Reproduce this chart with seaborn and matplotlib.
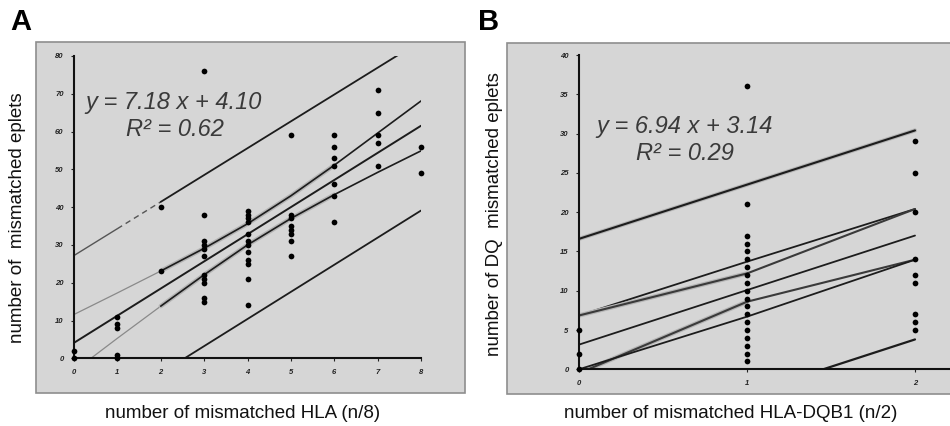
import numpy as np
import pandas as pd
import seaborn as sns
import matplotlib.pyplot as plt
from matplotlib.patches import Rectangle

# Panel A: number of mismatched HLA (n/8) vs mismatched eplets
hla_n = ([0] * 2 + [1] * 5 + [2] * 2 + [3] * 11 + [4] * 12 + [5] * 8
         + [6] * 7 + [7] * 5 + [8] * 2)
eplets_a = [0, 2,
            0, 1, 8, 9, 11,
            23, 40,
            15, 16, 20, 21, 22, 27, 29, 31, 30, 38, 76,
            14, 21, 25, 26, 28, 30, 31, 33, 36, 37, 38, 39,
            27, 31, 33, 34, 35, 37, 38, 59,
            36, 43, 46, 51, 53, 56, 59,
            51, 57, 59, 65, 71,
            49, 56]

# fitted line, confidence and prediction limits
fit_x_a = [0, 1, 2, 3, 4, 5, 6, 7, 8]
fit_a = [4.10, 11.28, 18.46, 25.64, 32.82, 40.00, 47.18, 54.36, 61.54]
ci_up_a = [11.6, 17.3, 23.1, 29.1, 35.6, 43.0, 51.1, 59.6, 68.1]
ci_lo_a = [-3.4, 5.3, 13.8, 22.1, 30.0, 37.0, 43.3, 49.2, 54.9]
pi_x_a = [0, 1, 2, 8]
pi_up_a = [27.2, 34.3, 41.4, 84.0]
pi_lo_a = [-18.3, -11.6, -4.9, 39.1]

# Panel B: number of mismatched HLA-DQB1 (n/2) vs DQ mismatched eplets
dqb1_n = [0] * 3 + [1] * 19 + [2] * 9
eplets_b = [0, 2, 5,
            1, 2, 3, 4, 5, 6, 7, 8, 9, 10, 11, 12, 13, 14, 15, 16, 17, 21, 36,
            5, 6, 7, 11, 12, 14, 20, 25, 29]

fit_x_b = [0, 1, 2]
fit_b = [3.14, 10.08, 17.02]
band_up_b = [6.85, 13.7, 20.4]
ci_up_b = [6.85, 12.2, 20.4]
ci_lo_b = [-0.5, 8.6, 13.95]
band_lo_b = [0.0, 6.7, 13.95]
pi_up_b = [16.6, 23.5, 30.4]
pi_lo_b = [-10.1, -3.2, 3.8]

sns.set_style("ticks")
plt.rcParams['font.family'] = ['Liberation Sans', 'DejaVu Sans']

fig = plt.figure(figsize=(9.5, 4.26), dpi=100)
W, H = 950.0, 426.0

# grey panel backgrounds
for x0, y0, w, h in [(36, 42, 429, 351), (507, 43, 446, 351)]:
    fig.patches.append(Rectangle((x0 / W, 1 - (y0 + h) / H), w / W, h / H,
                                 transform=fig.transFigure, facecolor='#d6d6d6',
                                 edgecolor='#8e8e8e', linewidth=1.2, zorder=0))

axA = fig.add_axes([74 / W, 1 - 358.3 / H, 347 / W, 302.3 / H])
axB = fig.add_axes([579 / W, 1 - 369.3 / H, 369.6 / W, 314.3 / H])

dark = '#1c1c1c'
light = '#8a8a8a'
halo = '#b4b4b4'


def line(ax, xs, ys, color=dark, lw=1.2, ls='-'):
    sns.lineplot(x=xs, y=ys, ax=ax, color=color, linewidth=lw, linestyle=ls,
                 estimator=None, sort=False, legend=False)


# ---- panel A ----
line(axA, fit_x_a, fit_a, lw=1.4)
line(axA, fit_x_a[:3], ci_up_a[:3], color=light, lw=0.9)
line(axA, fit_x_a[2:7], ci_up_a[2:7], color=halo, lw=3.2)
line(axA, fit_x_a[2:], ci_up_a[2:], lw=1.2)
line(axA, fit_x_a[:3], ci_lo_a[:3], color=light, lw=0.9)
line(axA, fit_x_a[2:7], ci_lo_a[2:7], color=halo, lw=3.2)
line(axA, fit_x_a[2:], ci_lo_a[2:], lw=1.2)
line(axA, pi_x_a[:2], pi_up_a[:2], color='#555555', lw=1.0)
line(axA, pi_x_a[1:3], pi_up_a[1:3], color='#555555', lw=1.0, ls=(0, (4, 3)))
line(axA, pi_x_a[2:], pi_up_a[2:], lw=1.3)
line(axA, [pi_x_a[0], pi_x_a[-1]], [pi_lo_a[0], pi_lo_a[-1]], lw=1.3)
sns.scatterplot(x=hla_n, y=eplets_a, ax=axA, color='black', s=17,
                linewidth=0, clip_on=False, zorder=5)
axA.set_xlim(0, 8)
axA.set_ylim(0, 80)
axA.set_xticks(range(0, 9))
axA.set_yticks(range(0, 81, 10))

# ---- panel B ----
line(axB, fit_x_b, pi_up_b, color=halo, lw=3.0)
line(axB, fit_x_b, pi_up_b, lw=1.5)
line(axB, fit_x_b, band_up_b, lw=1.3)
line(axB, fit_x_b[:2], ci_up_b[:2], color=halo, lw=3.2)
line(axB, fit_x_b, ci_up_b, color='#3a3a3a', lw=1.5)
line(axB, fit_x_b, fit_b, lw=1.3)
line(axB, fit_x_b[:2], ci_lo_b[:2], color=halo, lw=3.2)
line(axB, fit_x_b, ci_lo_b, color='#3a3a3a', lw=1.5)
line(axB, fit_x_b, band_lo_b, lw=1.3)
line(axB, [0, 2], [pi_lo_b[0], pi_lo_b[-1]], lw=1.6)
sns.scatterplot(x=dqb1_n, y=eplets_b, ax=axB, color='black', s=17,
                linewidth=0, clip_on=False, zorder=5)
axB.set_xlim(0, 2.2)
axB.set_ylim(0, 40)
axB.set_xticks([0, 1, 2])
axB.set_yticks(range(0, 41, 5))
axB.spines['bottom'].set_bounds(0, 2.2)

for ax in (axA, axB):
    ax.set_zorder(2)
    ax.set_facecolor('none')
    for side in ('top', 'right'):
        ax.spines[side].set_visible(False)
    for side in ('left', 'bottom'):
        ax.spines[side].set_linewidth(1.5)
        ax.spines[side].set_color('#111111')
    ax.tick_params(length=2.5, width=0.8, pad=5, labelsize=5.5, colors='#222222')
    for lab in ax.get_xticklabels() + ax.get_yticklabels():
        lab.set_fontstyle('italic')
        lab.set_fontweight('bold')
    ax.set_xlabel('')
    ax.set_ylabel('')

# equations
eq = dict(ha='center', va='center', style='italic', fontsize=17, color='#3a3a3a')
fig.text(174 / W, 1 - 103 / H, 'y = 7.18 x + 4.10', **eq)
fig.text(175 / W, 1 - 130 / H, 'R² = 0.62', **eq)
fig.text(685 / W, 1 - 127 / H, 'y = 6.94 x + 3.14', **eq)
fig.text(685 / W, 1 - 153 / H, 'R² = 0.29', **eq)

# axis titles
lab = dict(ha='center', va='center', fontsize=13.5, color='#111111')
fig.text(243 / W, 1 - 413 / H, 'number of mismatched HLA (n/8)', **lab)
fig.text(18 / W, 1 - 218 / H, 'number of  mismatched eplets', rotation=90, **lab)
fig.text(731 / W, 1 - 413 / H, 'number of mismatched HLA-DQB1 (n/2)', **lab)
fig.text(495 / W, 1 - 214 / H, 'number of DQ  mismatched eplets', rotation=90, **lab)

# panel letters
fig.text(21 / W, 1 - 22 / H, 'A', ha='center', va='center', fontsize=21,
         fontweight='bold', color='black')
fig.text(489 / W, 1 - 22 / H, 'B', ha='center', va='center', fontsize=21,
         fontweight='bold', color='black')

fig.savefig('out.png', dpi=100, facecolor='white')
